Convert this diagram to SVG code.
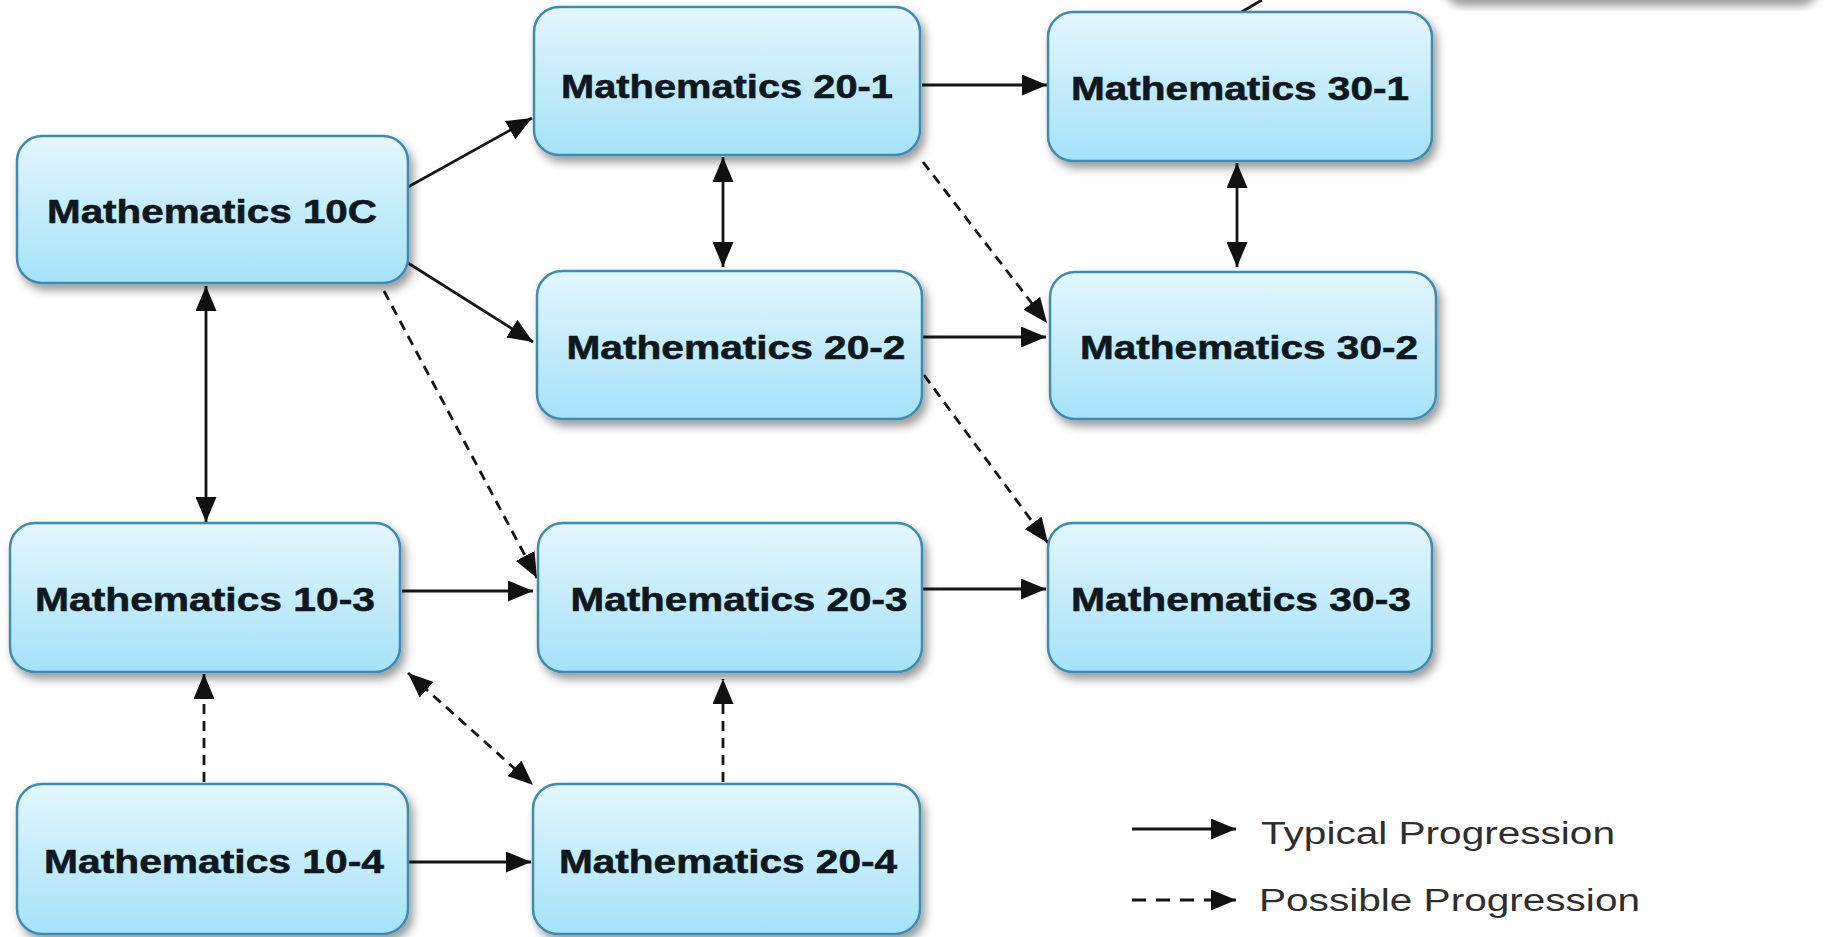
<svg xmlns="http://www.w3.org/2000/svg" width="1826" height="937" viewBox="0 0 1826 937">
  <defs>
    <linearGradient id="boxGrad" x1="0" y1="0" x2="0" y2="1">
      <stop offset="0" stop-color="#e4f6fc"/>
      <stop offset="1" stop-color="#a5e2f8"/>
    </linearGradient>
    <filter id="shadow" x="-10%" y="-10%" width="125%" height="135%">
      <feDropShadow dx="4" dy="6" stdDeviation="5" flood-color="#000" flood-opacity="0.4"/>
    </filter>
    <marker id="arr" viewBox="0 0 25 21" refX="25" refY="10.5" markerWidth="25" markerHeight="21" markerUnits="userSpaceOnUse" orient="auto-start-reverse">
      <path d="M0,0 L25,10.5 L0,21 Z" fill="#111"/>
    </marker>
    <style>
      .box { fill: url(#boxGrad); stroke: #3a8cb2; stroke-width: 2.5; filter: url(#shadow); }
      .lbl { font-family: "Liberation Sans", Arial, sans-serif; font-weight: bold; font-size: 34px; fill: #0f1820; text-anchor: middle; stroke: #0f1820; stroke-width: 0.6; }
      .ln { stroke: #151515; stroke-width: 2.8; fill: none; }
      .dash { stroke-dasharray: 10 7; }
      .ldash { stroke-dasharray: 14 10; }
      .leg { font-family: "Liberation Sans", Arial, sans-serif; font-size: 31px; fill: #2e2e2e; }
    </style>
  </defs>
  <rect x="0" y="0" width="1826" height="937" fill="#fff"/>

  <!-- partially visible shape at top right -->
  <rect x="1440" y="-44" width="375" height="44" rx="20" fill="#fff" filter="url(#shadow)"/>

  <g id="connectors">
    <line class="ln" x1="1238" y1="14" x2="1262" y2="0"/>
    <line class="ln" x1="408" y1="187" x2="532" y2="118" marker-end="url(#arr)"/>
    <line class="ln" x1="408" y1="263" x2="533" y2="342" marker-end="url(#arr)"/>
    <line class="ln" x1="922" y1="85" x2="1047" y2="85" marker-end="url(#arr)"/>
    <line class="ln" x1="723" y1="157" x2="723" y2="267" marker-start="url(#arr)" marker-end="url(#arr)"/>
    <line class="ln" x1="1237" y1="163" x2="1237" y2="267" marker-start="url(#arr)" marker-end="url(#arr)"/>
    <line class="ln dash" x1="923" y1="162" x2="1047" y2="323" marker-end="url(#arr)"/>
    <line class="ln" x1="921" y1="337" x2="1046" y2="337" marker-end="url(#arr)"/>
    <line class="ln dash" x1="924" y1="375" x2="1048" y2="543" marker-end="url(#arr)"/>
    <line class="ln" x1="206" y1="286" x2="206" y2="522" marker-start="url(#arr)" marker-end="url(#arr)"/>
    <line class="ln dash" x1="384" y1="291" x2="537" y2="578" marker-end="url(#arr)"/>
    <line class="ln" x1="402" y1="591" x2="533" y2="591" marker-end="url(#arr)"/>
    <line class="ln" x1="922" y1="589" x2="1046" y2="589" marker-end="url(#arr)"/>
    <line class="ln dash" x1="204" y1="782" x2="204" y2="674" marker-end="url(#arr)"/>
    <line class="ln dash" x1="408" y1="673" x2="533" y2="785" marker-start="url(#arr)" marker-end="url(#arr)"/>
    <line class="ln dash" x1="723" y1="782" x2="723" y2="679" marker-end="url(#arr)"/>
    <line class="ln" x1="408" y1="862" x2="531" y2="862" marker-end="url(#arr)"/>
  </g>

  <g id="n10C"><rect class="box" x="17" y="136" width="391" height="147" rx="25"/><text class="lbl" x="212" y="223" textLength="330" lengthAdjust="spacingAndGlyphs">Mathematics 10C</text></g>
  <g id="n20-1"><rect class="box" x="534" y="7" width="386" height="148" rx="25"/><text class="lbl" x="727" y="98" textLength="332" lengthAdjust="spacingAndGlyphs">Mathematics 20-1</text></g>
  <g id="n30-1"><rect class="box" x="1048" y="12" width="384" height="149" rx="25"/><text class="lbl" x="1240" y="100" textLength="338" lengthAdjust="spacingAndGlyphs">Mathematics 30-1</text></g>
  <g id="n20-2"><rect class="box" x="537" y="271" width="385" height="148" rx="25"/><text class="lbl" x="736" y="359" textLength="339" lengthAdjust="spacingAndGlyphs">Mathematics 20-2</text></g>
  <g id="n30-2"><rect class="box" x="1050" y="272" width="386" height="147" rx="25"/><text class="lbl" x="1249" y="359" textLength="338" lengthAdjust="spacingAndGlyphs">Mathematics 30-2</text></g>
  <g id="n10-3"><rect class="box" x="10" y="523" width="390" height="149" rx="25"/><text class="lbl" x="205" y="611" textLength="340" lengthAdjust="spacingAndGlyphs">Mathematics 10-3</text></g>
  <g id="n20-3"><rect class="box" x="538" y="523" width="384" height="149" rx="25"/><text class="lbl" x="739" y="611" textLength="337" lengthAdjust="spacingAndGlyphs">Mathematics 20-3</text></g>
  <g id="n30-3"><rect class="box" x="1048" y="523" width="384" height="149" rx="25"/><text class="lbl" x="1241" y="611" textLength="340" lengthAdjust="spacingAndGlyphs">Mathematics 30-3</text></g>
  <g id="n10-4"><rect class="box" x="17" y="784" width="391" height="150" rx="25"/><text class="lbl" x="214" y="873" textLength="340" lengthAdjust="spacingAndGlyphs">Mathematics 10-4</text></g>
  <g id="n20-4"><rect class="box" x="533" y="784" width="387" height="150" rx="25"/><text class="lbl" x="728" y="873" textLength="338" lengthAdjust="spacingAndGlyphs">Mathematics 20-4</text></g>

  <g id="legend">
    <line class="ln" x1="1132" y1="829" x2="1236" y2="829" marker-end="url(#arr)"/>
    <text class="leg" x="1261" y="844" textLength="354" lengthAdjust="spacingAndGlyphs">Typical Progression</text>
    <line class="ln ldash" x1="1132" y1="900" x2="1236" y2="900" marker-end="url(#arr)"/>
    <text class="leg" x="1259" y="911" textLength="381" lengthAdjust="spacingAndGlyphs">Possible Progression</text>
  </g>
</svg>
